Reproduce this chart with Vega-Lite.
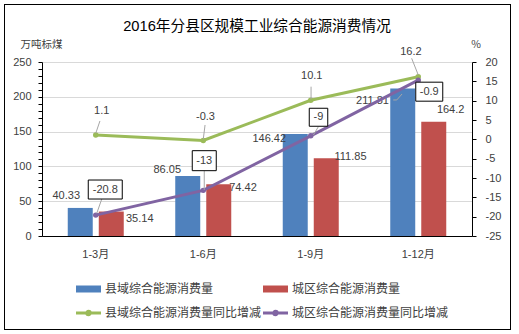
{
  "$schema": "https://vega.github.io/schema/vega-lite/v6.json",
  "width": 430,
  "height": 174,
  "autosize": {"type": "none"},
  "padding": {"left": 42, "top": 62, "right": 47, "bottom": 98},
  "background": "white",
  "title": {
    "text": "2016年分县区规模工业综合能源消费情况",
    "font": "Liberation Sans, Noto Sans CJK SC",
    "fontSize": 14.7,
    "fontWeight": "normal",
    "color": "#000000",
    "anchor": "middle",
    "offset": -31
  },
  "config": {
    "view": {"stroke": null},
    "text": {"font": "Liberation Sans", "fontSize": 11, "color": "#404040", "align": "center", "baseline": "middle"},
    "point": {"opacity": 1},
    "axis": {
      "labelFont": "Liberation Sans, Noto Sans CJK SC",
      "labelFontSize": 11,
      "labelColor": "#404040",
      "domainColor": "#000000",
      "tickColor": "#000000",
      "titleFont": "Noto Sans CJK SC",
      "titleFontSize": 10.5,
      "titleFontWeight": "normal",
      "titleColor": "#404040"
    }
  },
  "data": {
    "values": [
      {"month": "1-3月", "series": "县域综合能源消费量", "value": 40.33, "label": "40.33"},
      {"month": "1-6月", "series": "县域综合能源消费量", "value": 86.05, "label": "86.05"},
      {"month": "1-9月", "series": "县域综合能源消费量", "value": 146.42, "label": "146.42"},
      {"month": "1-12月", "series": "县域综合能源消费量", "value": 211.81, "label": "211.81"},
      {"month": "1-3月", "series": "城区综合能源消费量", "value": 35.14, "label": "35.14"},
      {"month": "1-6月", "series": "城区综合能源消费量", "value": 74.42, "label": "74.42"},
      {"month": "1-9月", "series": "城区综合能源消费量", "value": 111.85, "label": "111.85"},
      {"month": "1-12月", "series": "城区综合能源消费量", "value": 164.2, "label": "164.2"},
      {"month": "1-3月", "series": "县域综合能源消费量同比增减", "value": 1.1, "label": "1.1"},
      {"month": "1-6月", "series": "县域综合能源消费量同比增减", "value": -0.3, "label": "-0.3"},
      {"month": "1-9月", "series": "县域综合能源消费量同比增减", "value": 10.1, "label": "10.1"},
      {"month": "1-12月", "series": "县域综合能源消费量同比增减", "value": 16.2, "label": "16.2"},
      {"month": "1-3月", "series": "城区综合能源消费量同比增减", "value": -19.6, "label": "-20.8"},
      {"month": "1-6月", "series": "城区综合能源消费量同比增减", "value": -13.2, "label": "-13"},
      {"month": "1-9月", "series": "城区综合能源消费量同比增减", "value": 0.9, "label": "-9"},
      {"month": "1-12月", "series": "城区综合能源消费量同比增减", "value": 15.3, "label": "-0.9"}
    ]
  },
  "layer": [
    {
      "mark": {"type": "point", "shape": "M-2.525,-1.445H2.535V1.805H-2.525Z", "size": 40000, "filled": false, "stroke": "#000000", "strokeWidth": 1},
      "encoding": {}
    },
    {
      "encoding": {
        "x": {
          "field": "month", "type": "nominal", "sort": ["1-3月", "1-6月", "1-9月", "1-12月"],
          "scale": {"paddingInner": 0.479, "paddingOuter": 0.2395},
          "axis": {"title": null, "ticks": false, "labelPadding": 12, "labelAngle": 0, "domainWidth": 1, "grid": false}
        },
        "y": {
          "field": "value", "type": "quantitative",
          "scale": {"domain": [0, 250], "nice": false, "zero": true},
          "axis": {
            "orient": "left",
            "title": "万吨标煤",
            "titleAngle": 0,
            "titleX": -1,
            "titleY": -18,
            "titleAlign": "center",
            "titleBaseline": "middle",
            "values": [0,10,20,30,40,50,60,70,80,90,100,110,120,130,140,150,160,170,180,190,200,210,220,230,240,250],
            "labelExpr": "datum.value % 50 === 0 ? datum.label : ''",
            "tickSize": 4,
            "labelPadding": 7,
            "grid": true,
            "gridColor": {"condition": {"test": "datum.value % 50 === 0", "value": "#D9D9D9"}, "value": "transparent"},
            "gridWidth": 1
          }
        }
      },
      "layer": [
        {
          "transform": [{"filter": {"field": "series", "oneOf": ["县域综合能源消费量", "城区综合能源消费量"]}}],
          "mark": {"type": "bar"},
          "encoding": {
            "xOffset": {
              "field": "series", "type": "nominal",
              "scale": {"domain": ["县域综合能源消费量", "城区综合能源消费量"], "paddingInner": 0.194, "paddingOuter": 0}
            },
            "color": {
              "field": "series", "type": "nominal",
              "scale": {
                "domain": ["县域综合能源消费量", "城区综合能源消费量", "县域综合能源消费量同比增减", "城区综合能源消费量同比增减"],
                "range": ["#4F81BD", "#C0504D", "#9BBB59", "#8064A2"]
              },
              "legend": {
                "orient": "none",
                "legendX": 33,
                "legendY": 221,
                "direction": "horizontal",
                "columns": 2,
                "title": null,
                "padding": 0,
                "symbolSize": 100,
                "labelOffset": 18,
                "columnPadding": -13,
                "rowPadding": 10,
                "labelFont": "Noto Sans CJK SC",
                "labelFontSize": 12,
                "labelColor": "#404040",
                "labelLimit": 400,
                "encode": {
                  "symbols": {
                    "update": {
                      "shape": {"signal": "(datum.value === '县域综合能源消费量同比增减' || datum.value === '城区综合能源消费量同比增减') ? 'M-1,0H4M1.85,0A0.35,0.35,0,1,1,1.15,0A0.35,0.35,0,1,1,1.85,0' : 'M-1,-0.7H4V0.7H-1Z'"},
                      "fill": {"signal": "scale('color', datum.value)"},
                      "stroke": {"signal": "(datum.value === '县域综合能源消费量同比增减' || datum.value === '城区综合能源消费量同比增减') ? scale('color', datum.value) : 'transparent'"},
                      "strokeWidth": {"signal": "(datum.value === '县域综合能源消费量同比增减' || datum.value === '城区综合能源消费量同比增减') ? 3 : 0"},
                      "opacity": {"value": 1},
                      "fillOpacity": {"value": 1},
                      "strokeOpacity": {"value": 1}
                    }
                  }
                }
              }
            }
          }
        },
        {"transform": [{"filter": "datum.series==='县域综合能源消费量' && datum.month==='1-3月'"}], "mark": {"type": "text", "dx": -29.5, "dy": -12.2}, "encoding": {"text": {"field": "label"}}},
        {"transform": [{"filter": "datum.series==='县域综合能源消费量' && datum.month==='1-6月'"}], "mark": {"type": "text", "dx": -36, "dy": -6}, "encoding": {"text": {"field": "label"}}},
        {"transform": [{"filter": "datum.series==='县域综合能源消费量' && datum.month==='1-9月'"}], "mark": {"type": "text", "dx": -41.5, "dy": 5}, "encoding": {"text": {"field": "label"}}},
        {"transform": [{"filter": "datum.series==='县域综合能源消费量' && datum.month==='1-12月'"}], "mark": {"type": "text", "dx": -45.75, "dy": 12}, "encoding": {"text": {"field": "label"}}},
        {"transform": [{"filter": "datum.series==='城区综合能源消费量' && datum.month==='1-3月'"}], "mark": {"type": "text", "dx": 44, "dy": 7.5}, "encoding": {"text": {"field": "label"}}},
        {"transform": [{"filter": "datum.series==='城区综合能源消费量' && datum.month==='1-6月'"}], "mark": {"type": "text", "dx": 39.75, "dy": 4}, "encoding": {"text": {"field": "label"}}},
        {"transform": [{"filter": "datum.series==='城区综合能源消费量' && datum.month==='1-9月'"}], "mark": {"type": "text", "dx": 39.75, "dy": -1.5}, "encoding": {"text": {"field": "label"}}},
        {"transform": [{"filter": "datum.series==='城区综合能源消费量' && datum.month==='1-12月'"}], "mark": {"type": "text", "dx": 32.4, "dy": -11.7}, "encoding": {"text": {"field": "label"}}},
        {
          "transform": [{"filter": "datum.series==='县域综合能源消费量' && datum.month==='1-12月'"}],
          "mark": {"type": "point", "shape": "M-2.5,1.14H-2.15L-1.62,0.54", "size": 400, "filled": false, "stroke": "#A6A6A6", "strokeWidth": 1},
          "encoding": {}
        }
      ]
    },
    {
      "transform": [{"filter": {"field": "series", "oneOf": ["县域综合能源消费量同比增减", "城区综合能源消费量同比增减"]}}],
      "encoding": {
        "x": {
          "field": "month", "type": "nominal", "sort": ["1-3月", "1-6月", "1-9月", "1-12月"],
          "axis": {"title": null, "ticks": false, "labelPadding": 12, "labelAngle": 0, "domainWidth": 1, "grid": false}
        },
        "y": {
          "field": "value", "type": "quantitative",
          "scale": {"domain": [-25, 20], "nice": false, "zero": false},
          "axis": {
            "orient": "right",
            "title": "%",
            "titleAngle": 0,
            "titleX": 3.5,
            "titleY": -18,
            "titleAlign": "center",
            "titleBaseline": "middle",
            "values": [-25,-20,-15,-10,-5,0,5,10,15,20],
            "labelExpr": "'' + datum.value",
            "tickSize": 4,
            "labelPadding": 9,
            "grid": false
          }
        }
      },
      "layer": [
        {
          "mark": {"type": "line", "strokeWidth": 3, "point": {"filled": true, "size": 30, "opacity": 1}},
          "encoding": {"color": {"field": "series", "type": "nominal"}}
        },
        {"transform": [{"filter": "datum.series==='县域综合能源消费量同比增减' && datum.month==='1-3月'"}], "mark": {"type": "point", "shape": "M0.42,-1.41L0,-0.18", "size": 400, "filled": false, "stroke": "#A6A6A6", "strokeWidth": 1}, "encoding": {}},
        {"transform": [{"filter": "datum.series==='县域综合能源消费量同比增减' && datum.month==='1-6月'"}], "mark": {"type": "point", "shape": "M0.18,-1.55L0,-0.12", "size": 400, "filled": false, "stroke": "#A6A6A6", "strokeWidth": 1}, "encoding": {}},
        {"transform": [{"filter": "datum.series==='县域综合能源消费量同比增减' && datum.month==='1-9月'"}], "mark": {"type": "point", "shape": "M0.03,-1.36L0.03,-0.1", "size": 400, "filled": false, "stroke": "#A6A6A6", "strokeWidth": 1}, "encoding": {}},
        {"transform": [{"filter": "datum.series==='县域综合能源消费量同比增减' && datum.month==='1-12月'"}], "mark": {"type": "point", "shape": "M-0.66,-1.84L0,-0.17", "size": 400, "filled": false, "stroke": "#A6A6A6", "strokeWidth": 1}, "encoding": {}},
        {"transform": [{"filter": "datum.series==='城区综合能源消费量同比增减' && datum.month==='1-3月'"}], "mark": {"type": "point", "shape": "M0.6,-1.61L0.1,-0.18", "size": 400, "filled": false, "stroke": "#A6A6A6", "strokeWidth": 1}, "encoding": {}},
        {"transform": [{"filter": "datum.series==='城区综合能源消费量同比增减' && datum.month==='1-6月'"}], "mark": {"type": "point", "shape": "M0.1,-1.97L0.1,-0.04", "size": 400, "filled": false, "stroke": "#A6A6A6", "strokeWidth": 1}, "encoding": {}},
        {"transform": [{"filter": "datum.series==='城区综合能源消费量同比增减' && datum.month==='1-9月'"}], "mark": {"type": "point", "shape": "M0.76,-0.91L0.26,-0.08", "size": 400, "filled": false, "stroke": "#A6A6A6", "strokeWidth": 1}, "encoding": {}},
        {"transform": [{"filter": "datum.series==='城区综合能源消费量同比增减' && datum.month==='1-3月'"}], "mark": {"type": "point", "shape": "M-0.75,-3.51h3.4v1.9h-3.4Z", "size": 400, "filled": true, "fill": "white", "stroke": "#000000", "strokeWidth": 1}, "encoding": {}},
        {"transform": [{"filter": "datum.series==='城区综合能源消费量同比增减' && datum.month==='1-6月'"}], "mark": {"type": "point", "shape": "M-1.1,-3.97h2.4v2h-2.4Z", "size": 400, "filled": true, "fill": "white", "stroke": "#000000", "strokeWidth": 1}, "encoding": {}},
        {"transform": [{"filter": "datum.series==='城区综合能源消费量同比增减' && datum.month==='1-9月'"}], "mark": {"type": "point", "shape": "M-0.15,-2.76h1.85v1.8h-1.85Z", "size": 400, "filled": true, "fill": "white", "stroke": "#000000", "strokeWidth": 1}, "encoding": {}},
        {"transform": [{"filter": "datum.series==='城区综合能源消费量同比增减' && datum.month==='1-12月'"}], "mark": {"type": "point", "shape": "M-0.25,0.2h2.7v1.9h-2.7Z", "size": 400, "filled": true, "fill": "white", "stroke": "#000000", "strokeWidth": 1}, "encoding": {}},
        {"transform": [{"filter": "datum.series==='县域综合能源消费量同比增减' && datum.month==='1-3月'"}], "mark": {"type": "text", "dx": 6, "dy": -24.4}, "encoding": {"text": {"field": "label"}}},
        {"transform": [{"filter": "datum.series==='县域综合能源消费量同比增减' && datum.month==='1-6月'"}], "mark": {"type": "text", "dx": 2.25, "dy": -23.2}, "encoding": {"text": {"field": "label"}}},
        {"transform": [{"filter": "datum.series==='县域综合能源消费量同比增减' && datum.month==='1-9月'"}], "mark": {"type": "text", "dx": 1, "dy": -24.6}, "encoding": {"text": {"field": "label"}}},
        {"transform": [{"filter": "datum.series==='县域综合能源消费量同比增减' && datum.month==='1-12月'"}], "mark": {"type": "text", "dx": -7.4, "dy": -25}, "encoding": {"text": {"field": "label"}}},
        {"transform": [{"filter": "datum.series==='城区综合能源消费量同比增减' && datum.month==='1-3月'"}], "mark": {"type": "text", "dx": 9.5, "dy": -25.6}, "encoding": {"text": {"field": "label"}}},
        {"transform": [{"filter": "datum.series==='城区综合能源消费量同比增减' && datum.month==='1-6月'"}], "mark": {"type": "text", "dx": 1, "dy": -29.7}, "encoding": {"text": {"field": "label"}}},
        {"transform": [{"filter": "datum.series==='城区综合能源消费量同比增减' && datum.month==='1-9月'"}], "mark": {"type": "text", "dx": 7.75, "dy": -18.6}, "encoding": {"text": {"field": "label"}}},
        {"transform": [{"filter": "datum.series==='城区综合能源消费量同比增减' && datum.month==='1-12月'"}], "mark": {"type": "text", "dx": 11, "dy": 11.5}, "encoding": {"text": {"field": "label"}}}
      ]
    }
  ],
  "resolve": {"scale": {"y": "independent"}}
}
